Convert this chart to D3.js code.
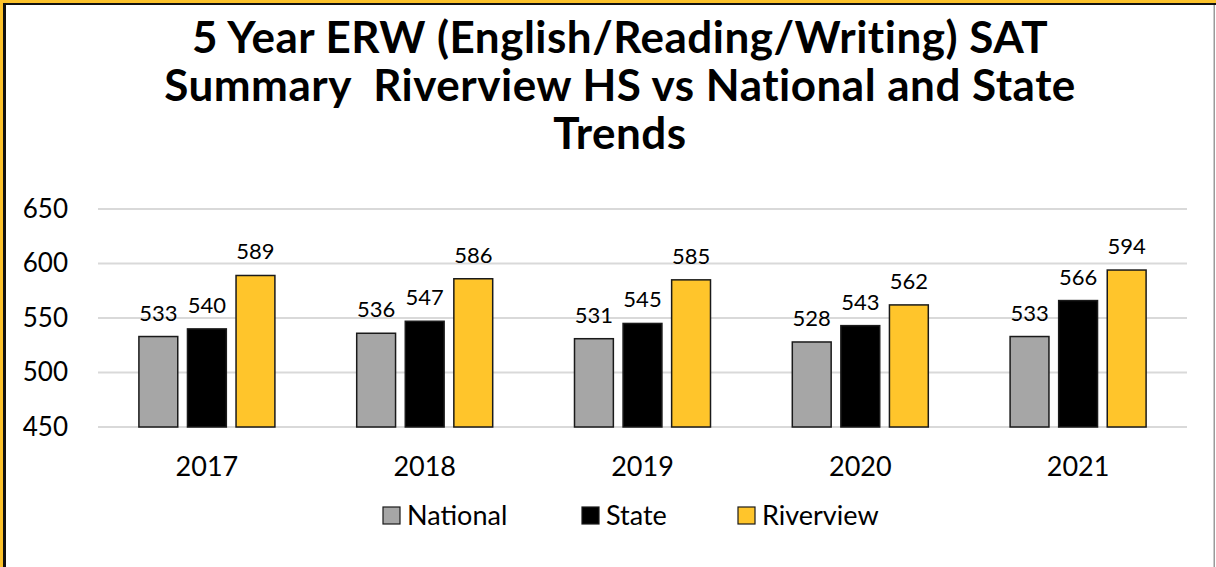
<!DOCTYPE html>
<html>
<head>
<meta charset="utf-8">
<script src="https://cdn.jsdelivr.net/npm/d3@7"></script>
<style>
  body { margin: 0; background: #fff; }
  text { font-family: Lato, "Open Sans", sans-serif; }
</style>
</head>
<body>
<div id="wrapper"></div>
<script>
const years = ["2017", "2018", "2019", "2020", "2021"];
const seriesNames = ["National", "State", "Riverview"];
const national = [533, 536, 531, 528, 533];
const state = [540, 547, 545, 543, 566];
const riverview = [589, 586, 585, 562, 594];
const yTicks = [450, 500, 550, 600, 650];
const titleLines = [
    "5 Year ERW (English/Reading/Writing) SAT",
    "Summary  Riverview HS vs National and State",
    "Trends"
];

const colors = ["#a6a6a6", "#000000", "#ffc52b"];

let dimensions = {
    width: 1216,
    height: 567,
    margin: { top: 209, left: 98, bottom: 140, right: 29 }
}
dimensions.boundedWidth = dimensions.width - dimensions.margin.left - dimensions.margin.right;
dimensions.boundedHeight = dimensions.height - dimensions.margin.top - dimensions.margin.bottom;

const wrapper = d3.select("#wrapper").append("svg")
    .attr("width", dimensions.width)
    .attr("height", dimensions.height);

// frame: yellow outer band + dark inner line, grey right edge
wrapper.append("rect").attr("x", 0).attr("y", 0).attr("width", dimensions.width).attr("height", 3).attr("fill", "#fcc22b");
wrapper.append("rect").attr("x", 0).attr("y", 0).attr("width", 3).attr("height", dimensions.height).attr("fill", "#fcc22b");
wrapper.append("rect").attr("x", 3).attr("y", 3).attr("width", dimensions.width - 3).attr("height", 2).attr("fill", "#111");
wrapper.append("rect").attr("x", 3).attr("y", 3).attr("width", 3).attr("height", dimensions.height - 3).attr("fill", "#111");
wrapper.append("rect").attr("x", 1213.5).attr("y", 5).attr("width", 1.5).attr("height", dimensions.height - 5).attr("fill", "#9a9a9a");

// title
wrapper.append("g").selectAll("text")
    .data(titleLines)
    .enter()
    .append("text")
    .attr("x", 620)
    .attr("y", (d, i) => 53 + i * 48)
    .attr("text-anchor", "middle")
    .style("font-weight", "bold")
    .style("font-size", "44px")
    .style("letter-spacing", "0.5px")
    .style("white-space", "pre")
    .style("fill", "#000")
    .text(d => d);

const container = wrapper.append("g")
    .attr("transform", `translate(${dimensions.margin.left}, ${dimensions.margin.top})`);

const xScaler = d3.scaleBand()
    .domain(years)
    .range([0, dimensions.boundedWidth]);

const groupWidth = 136;
const xInner = d3.scaleBand()
    .domain(seriesNames)
    .range([0, groupWidth])
    .paddingInner(0.2);

const yScaler = d3.scaleLinear()
    .domain([450, 650])
    .range([dimensions.boundedHeight, 0]);

// gridlines
container.append("g").selectAll("line")
    .data(yTicks)
    .enter()
    .append("line")
    .attr("x1", 0)
    .attr("x2", dimensions.boundedWidth)
    .attr("y1", d => yScaler(d))
    .attr("y2", d => yScaler(d))
    .attr("stroke", "#d9d9d9")
    .attr("stroke-width", 2);

// y axis labels
const yAxisGen = d3.axisLeft(yScaler).tickValues(yTicks).tickSize(0).tickPadding(30);
const axisY = container.append("g").call(yAxisGen);
axisY.select(".domain").remove();
axisY.selectAll("text")
    .style("font-family", "Lato, sans-serif")
    .style("font-size", "26px")
    .attr("fill", "#000");

// x axis labels
const xAxisGen = d3.axisBottom(xScaler).tickSize(0).tickPadding(30);
const axisX = container.append("g")
    .attr("transform", `translate(0, ${dimensions.boundedHeight})`)
    .call(xAxisGen);
axisX.select(".domain").remove();
axisX.selectAll("text")
    .style("font-family", "Lato, sans-serif")
    .style("font-size", "27px")
    .attr("fill", "#000");

// bars
const seriesValues = [national, state, riverview];
const barData = [];
years.forEach((yr, i) => {
    seriesNames.forEach((s, j) => {
        barData.push({ year: yr, series: s, idx: j, value: seriesValues[j][i] });
    });
});

const groupOffset = (xScaler.bandwidth() - groupWidth) / 2;

container.selectAll(".bar")
    .data(barData)
    .enter()
    .append("rect")
    .attr("class", "bar")
    .attr("x", d => xScaler(d.year) + groupOffset + xInner(d.series))
    .attr("y", d => yScaler(d.value))
    .attr("width", xInner.bandwidth())
    .attr("height", d => yScaler(450) - yScaler(d.value))
    .attr("fill", d => colors[d.idx])
    .attr("stroke", "#1a1a1a")
    .attr("stroke-width", 1.5);

container.selectAll(".label")
    .data(barData)
    .enter()
    .append("text")
    .attr("class", "label")
    .attr("x", d => xScaler(d.year) + groupOffset + xInner(d.series) + xInner.bandwidth() / 2)
    .attr("y", d => yScaler(d.value) - 16)
    .attr("text-anchor", "middle")
    .style("font-size", "22px")
    .style("fill", "#000")
    .text(d => d.value);

// legend
const legendX = [383, 582, 738];
const legend = wrapper.append("g").selectAll("g")
    .data(seriesNames)
    .enter()
    .append("g")
    .attr("transform", (d, i) => `translate(${legendX[i]}, 506)`);
legend.append("rect")
    .attr("width", 17)
    .attr("height", 17)
    .attr("y", 1)
    .attr("fill", (d, i) => colors[i])
    .attr("stroke", "#1a1a1a")
    .attr("stroke-width", 1.2);
legend.append("text")
    .attr("x", 24)
    .attr("y", 19)
    .style("font-size", "27px")
    .style("fill", "#000")
    .text(d => d);
</script>
</body>
</html>
